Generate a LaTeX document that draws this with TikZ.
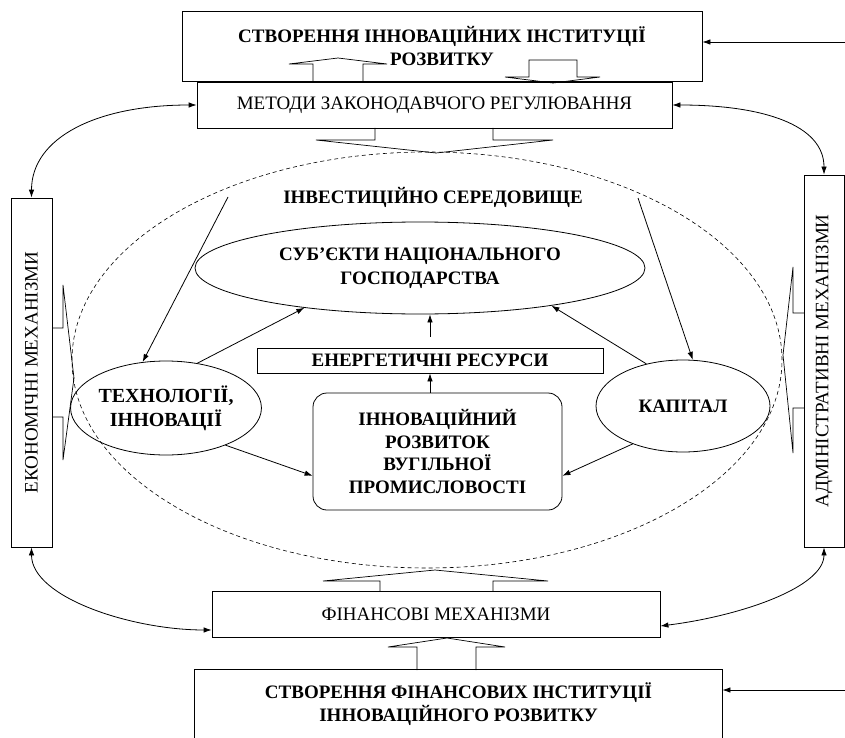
\documentclass[tikz,border=0pt]{standalone}
\usepackage{fontspec}
\setmainfont{Liberation Serif}
\usetikzlibrary{shapes.geometric,arrows.meta}
\begin{document}
\begin{tikzpicture}[x=1pt,y=-1pt,line width=0.8pt,
  box/.style={draw,rectangle,inner sep=0pt,align=center},
  oval/.style={draw,ellipse,inner sep=0pt,align=center},
  bt/.style={font=\bfseries\fontsize{19}{23.5}\selectfont},
  rt/.style={font=\fontsize{19}{23.5}\selectfont},
  arr/.style={-{Latex[length=8pt,width=5.5pt]}},
  dbl/.style={{Latex[length=8pt,width=5.5pt]}-{Latex[length=8pt,width=5.5pt]}},
  blk/.style={draw,line join=miter,line width=0.7pt}]
\useasboundingbox (0,0) rectangle (845,738);
% investment environment
\node[oval,dashed,dash pattern=on 4pt off 3pt,line width=0.6pt,minimum width=710pt,minimum height=416pt] (env) at (427,360) {};
% top blocks
\node[box,bt,minimum width=520pt,minimum height=70pt] (top) at (442,46) {СТВОРЕННЯ ІННОВАЦІЙНИХ ІНСТИТУЦІЇ\\РОЗВИТКУ};
\node[box,rt,minimum width=475pt,minimum height=46pt] (meth) at (434.5,105) {МЕТОДИ ЗАКОНОДАВЧОГО РЕГУЛЮВАННЯ};
% side blocks
\node[box,rt,minimum width=41pt,minimum height=349pt] (econ) at (31.5,372.5) {\rotatebox{90}{ЕКОНОМІЧНІ МЕХАНІЗМИ}};
\node[box,rt,minimum width=40pt,minimum height=372pt] (adm) at (824,361) {\rotatebox{90}{АДМІНІСТРАТИВНІ МЕХАНІЗМИ}};
% bottom blocks
\node[box,rt,minimum width=448pt,minimum height=46pt] (fin) at (436,614) {ФІНАНСОВІ МЕХАНІЗМИ};
\node[bt,align=center,inner sep=0pt,minimum width=527pt,minimum height=68pt] (bfin) at (458.5,704) {СТВОРЕННЯ ФІНАНСОВИХ ІНСТИТУЦІЇ\\ІННОВАЦІЙНОГО РОЗВИТКУ};
\draw ([yshift=-20pt]bfin.south west) |- (bfin.north east) -- ([yshift=-20pt]bfin.south east);
% inner elements
\node[bt] (envlab) at (433,197) {ІНВЕСТИЦІЙНО СЕРЕДОВИЩЕ};
\node[oval,bt,font=\bfseries\fontsize{19}{24}\selectfont,minimum width=450pt,minimum height=92pt] (subj) at (420,268) {СУБ’ЄКТИ НАЦІОНАЛЬНОГО\\ГОСПОДАРСТВА};
\node[box,bt,minimum width=346pt,minimum height=25pt] (energy) at (430,360.5) {ЕНЕРГЕТИЧНІ РЕСУРСИ};
\node[box,bt,font=\bfseries\fontsize{19}{22.5}\selectfont,rounded corners=14pt,minimum width=249pt,minimum height=117pt] (innov) at (437.5,451.5) {ІННОВАЦІЙНИЙ\\РОЗВИТОК\\ВУГІЛЬНОЇ\\ПРОМИСЛОВОСТІ};
\node[oval,bt,font=\bfseries\fontsize{20}{24}\selectfont,minimum width=186pt,minimum height=94pt] (tech) at (166,408) {ТЕХНОЛОГІЇ,\\ІННОВАЦІЇ};
\node[oval,bt,minimum width=174pt,minimum height=92pt] (cap) at (683,406) {КАПІТАЛ};
% inner arrows
\coordinate (s1) at (228,197);
\coordinate (s2) at (638,198);
\draw[arr] (s1) -- (tech.117);
\draw[arr] (s2) -- (cap.78);
\draw[arr] (tech.55) -- (subj.199);
\draw[arr] (cap.131) -- (subj.344);
\draw[arr] ([yshift=11pt]energy.north) -- (energy.north |- subj.south);
\draw[arr] (innov.north -| energy.south) -- (energy.south);
\draw[arr] (tech.-32) -- (innov.191);
\draw[arr] (cap.217) -- (innov.349);
% curved links
\draw[dbl] (meth.west) .. controls +(-100,0) and +(0,-60) .. (econ.north);
\draw[dbl] (meth.east) .. controls +(90,0) and +(0,-50) .. (adm.north);
\draw[dbl] (econ.south) .. controls +(0,50) and +(-80,0) .. ([yshift=-16pt]fin.west);
\draw[dbl] ([yshift=-12pt]fin.east) .. controls +(80,-10) and +(0,40) .. (adm.south);
% incoming arrows from the right
\coordinate (r1) at (845,42);
\coordinate (r2) at (845,690);
\draw[arr] (r1) -- (r1 -| top.east);
\draw[arr] (r2) -- (r2 -| bfin.east);
% block arrows
\draw[blk] (313,82) -- (313,64) -- (289,64) -- (338,58) -- (387,64) -- (363,64) -- (363,82);
\draw[blk] (505,77) -- (529,77) -- (529,60) -- (577,60) -- (577,77) -- (600,77) -- (553,83) -- cycle;
\draw[blk] (375,128) -- (375,140) -- (316,140) -- (436,153) -- (553,140) -- (493,140) -- (493,128);
\draw[blk] (380,591) -- (380,581) -- (323,581) -- (435,570) -- (548,581) -- (493,581) -- (493,591);
\draw[blk] (417,670) -- (417,647) -- (388,647) -- (447,638) -- (505,647) -- (476,647) -- (476,670);
\draw[blk] (52,328) -- (63,328) -- (63,285) -- (74,378) -- (63,460) -- (63,417) -- (52,417);
\draw[blk] (804,313) -- (793,313) -- (793,267) -- (783,355) -- (793,453) -- (793,408) -- (804,408);
\end{tikzpicture}
\end{document}
